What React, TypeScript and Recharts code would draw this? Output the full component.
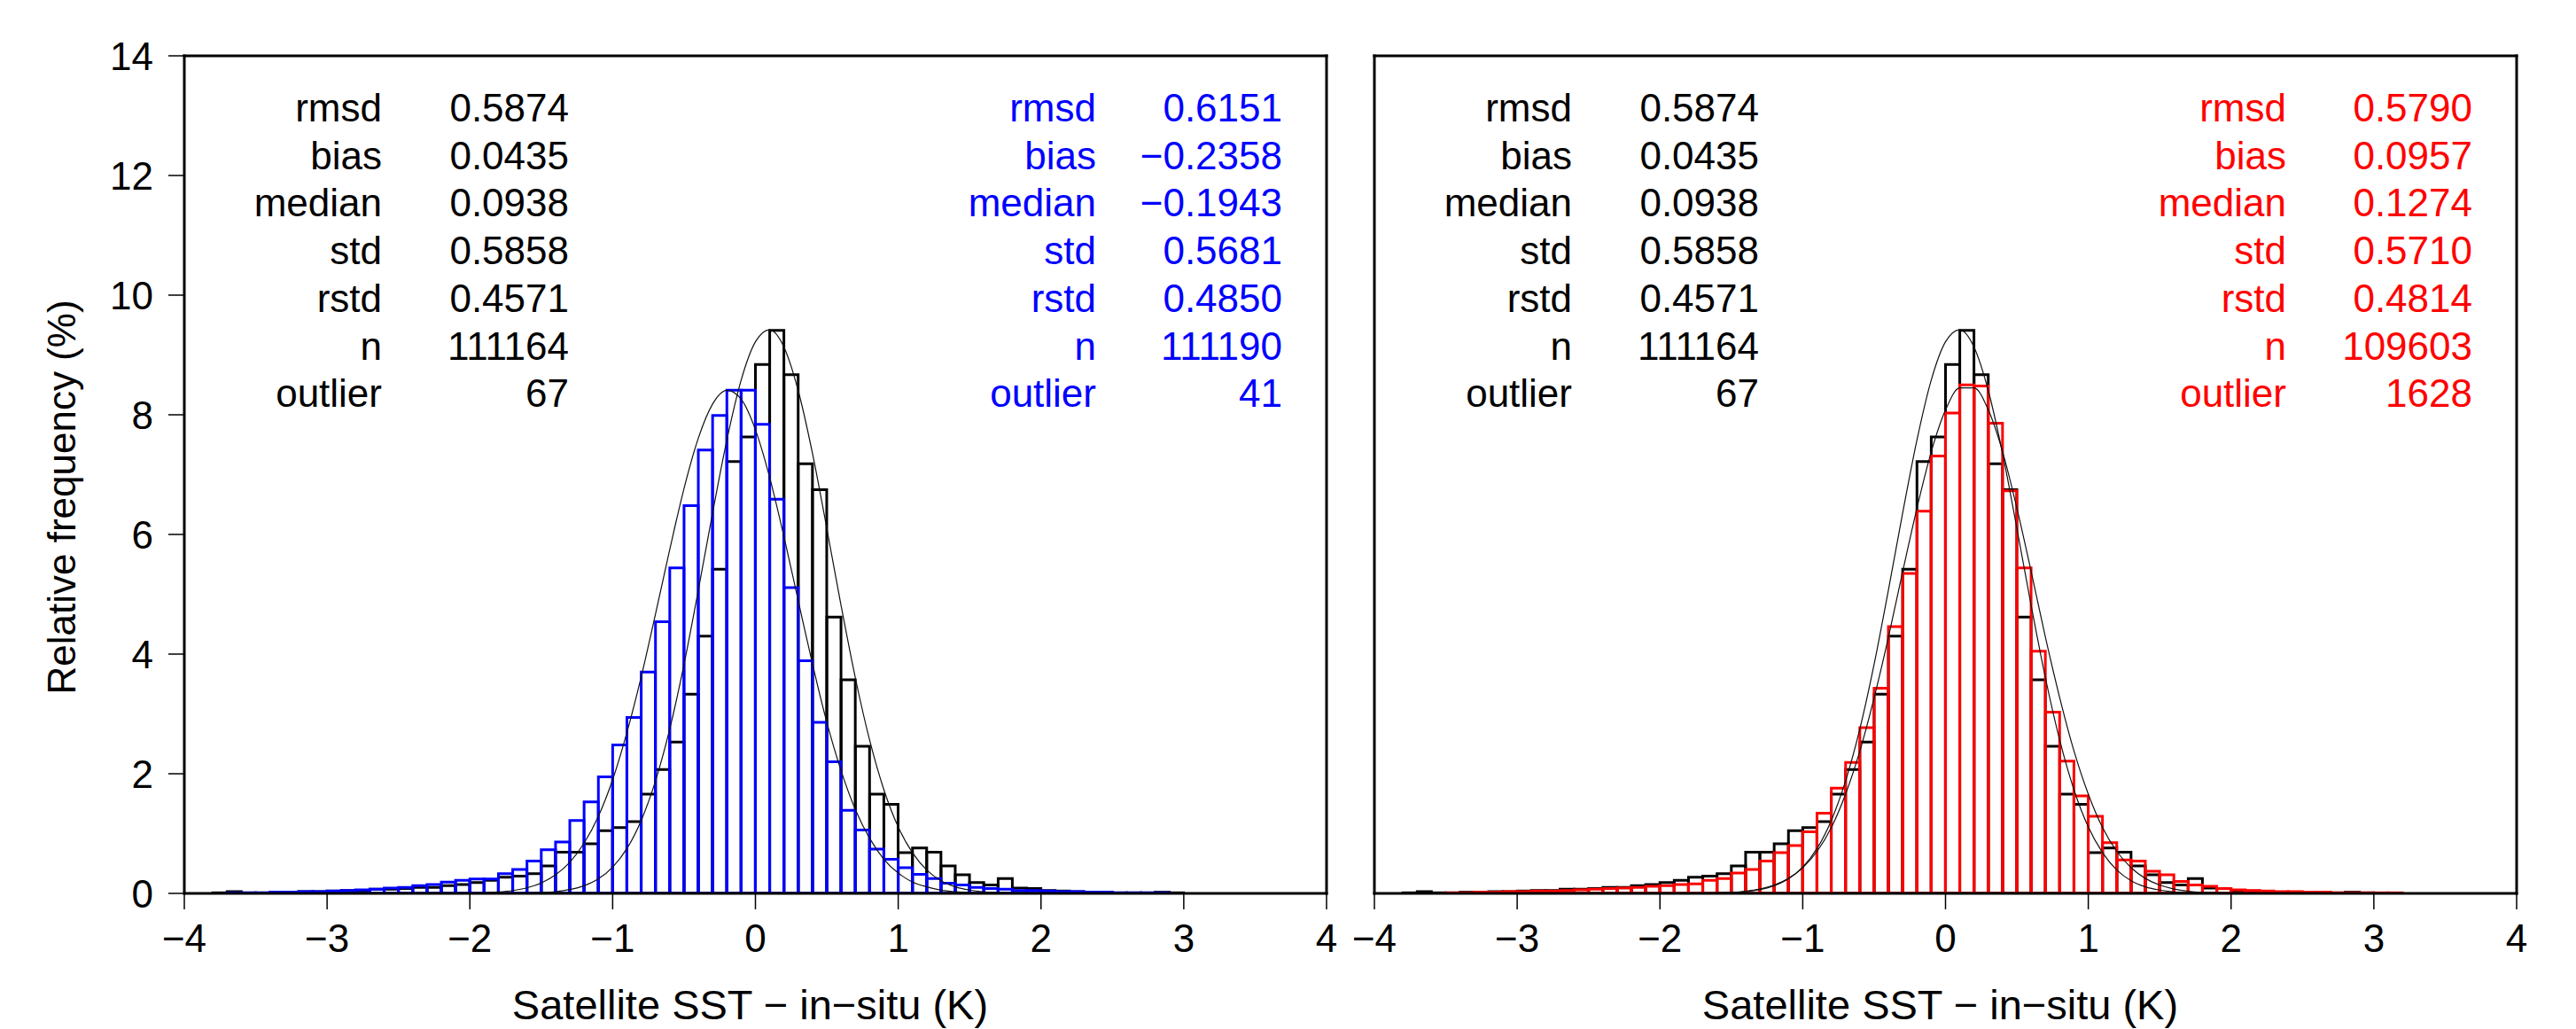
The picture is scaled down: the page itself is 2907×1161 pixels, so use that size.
import { Bar, ComposedChart, Line, XAxis, YAxis } from 'recharts'

// bin left edges (K), bin width 0.1
const binLeft = [
  -4.0, -3.9, -3.8, -3.7, -3.6, -3.5, -3.4, -3.3, -3.2, -3.1,
  -3.0, -2.9, -2.8, -2.7, -2.6, -2.5, -2.4, -2.3, -2.2, -2.1,
  -2.0, -1.9, -1.8, -1.7, -1.6, -1.5, -1.4, -1.3, -1.2, -1.1,
  -1.0, -0.9, -0.8, -0.7, -0.6, -0.5, -0.4, -0.3, -0.2, -0.1,
  0.0, 0.1, 0.2, 0.3, 0.4, 0.5, 0.6, 0.7, 0.8, 0.9,
  1.0, 1.1, 1.2, 1.3, 1.4, 1.5, 1.6, 1.7, 1.8, 1.9,
  2.0, 2.1, 2.2, 2.3, 2.4, 2.5, 2.6, 2.7, 2.8, 2.9,
  3.0, 3.1, 3.2, 3.3, 3.4, 3.5, 3.6, 3.7, 3.8, 3.9,
]

// relative frequency (%) per bin
const refHist = [
  0, 0, 0.01, 0.03, 0.01, 0.01, 0.02, 0.02, 0.03, 0.03,
  0.04, 0.05, 0.05, 0.07, 0.07, 0.08, 0.1, 0.1, 0.13, 0.15,
  0.18, 0.22, 0.27, 0.29, 0.33, 0.46, 0.69, 0.69, 0.83, 1.05,
  1.1, 1.2, 1.66, 2.07, 2.53, 3.33, 4.3, 5.42, 7.22, 7.63,
  8.84, 9.41, 8.67, 7.18, 6.75, 4.62, 3.57, 2.46, 1.66, 1.49,
  0.68, 0.76, 0.69, 0.46, 0.31, 0.18, 0.14, 0.25, 0.09, 0.08,
  0.05, 0.04, 0.03, 0.02, 0.02, 0.01, 0.01, 0.01, 0.02, 0.01,
  0, 0, 0, 0, 0, 0, 0, 0, 0, 0,
]
const blueHist = [
  0, 0, 0, 0.01, 0.01, 0.01, 0.02, 0.02, 0.03, 0.03,
  0.04, 0.05, 0.06, 0.07, 0.09, 0.1, 0.13, 0.15, 0.19, 0.22,
  0.24, 0.24, 0.33, 0.4, 0.54, 0.73, 0.86, 1.22, 1.53, 1.95,
  2.48, 2.94, 3.7, 4.54, 5.44, 6.48, 7.41, 7.99, 8.41, 8.41,
  7.84, 6.59, 5.11, 3.89, 2.86, 2.2, 1.39, 1.06, 0.74, 0.57,
  0.43, 0.32, 0.25, 0.17, 0.14, 0.1, 0.08, 0.07, 0.05, 0.05,
  0.04, 0.03, 0.03, 0.02, 0.02, 0.01, 0.01, 0.01, 0.01, 0,
  0, 0, 0, 0, 0, 0, 0, 0, 0, 0,
]
const redHist = [
  0, 0, 0, 0, 0, 0.01, 0.01, 0.02, 0.02, 0.03,
  0.03, 0.04, 0.04, 0.05, 0.06, 0.07, 0.08, 0.09, 0.1, 0.12,
  0.13, 0.15, 0.16, 0.22, 0.25, 0.34, 0.4, 0.54, 0.68, 0.8,
  1.03, 1.34, 1.76, 2.19, 2.77, 3.43, 4.46, 5.35, 6.39, 7.31,
  8.03, 8.5, 8.48, 7.86, 6.73, 5.44, 4.05, 3.03, 2.21, 1.63,
  1.29, 0.85, 0.56, 0.54, 0.37, 0.31, 0.2, 0.14, 0.12, 0.08,
  0.06, 0.05, 0.04, 0.03, 0.03, 0.02, 0.02, 0.01, 0.01, 0.01,
  0.01, 0.01, 0, 0, 0, 0, 0, 0, 0, 0,
]

// thin fitted curves
const curveX = [
  -4,
  -2.0, -1.9, -1.8, -1.7, -1.6, -1.5, -1.4, -1.3, -1.2, -1.1,
  -1.0, -0.9, -0.8, -0.7, -0.6, -0.5, -0.4, -0.3, -0.2, -0.1,
  0.0, 0.1, 0.2, 0.3, 0.4, 0.5, 0.6, 0.7, 0.8, 0.9,
  1.0, 1.1, 1.2, 1.3, 1.4, 1.5, 1.6, 1.7, 1.8, 1.9, 2.0,
  4,
]
const refCurve = [
  0,
  0, 0, 0.001, 0.003, 0.006, 0.014, 0.03, 0.064, 0.128, 0.243,
  0.44, 0.75, 1.22, 1.88, 2.75, 3.83, 5.07, 6.36, 7.58, 8.58,
  9.22, 9.42, 9.13, 8.4, 7.35, 6.1, 4.81, 3.6, 2.56, 1.73,
  1.11, 0.68, 0.39, 0.21, 0.11, 0.056, 0.026, 0.012, 0.005, 0.002, 0,
  0,
]
const blueCurve = [
  0,
  0.005, 0.011, 0.024, 0.048, 0.093, 0.173, 0.31, 0.52, 0.84, 1.29,
  1.9, 2.69, 3.62, 4.67, 5.75, 6.77, 7.61, 8.18, 8.41, 8.26,
  7.75, 6.95, 5.96, 4.89, 3.83, 2.86, 2.05, 1.4, 0.92, 0.57,
  0.34, 0.19, 0.11, 0.055, 0.028, 0.013, 0.006, 0.003, 0.001, 0, 0,
  0,
]
const redCurve = [
  0,
  0.001, 0.001, 0.002, 0.004, 0.008, 0.018, 0.037, 0.073, 0.14, 0.25,
  0.43, 0.7, 1.1, 1.66, 2.38, 3.27, 4.28, 5.38, 6.44, 7.38,
  8.08, 8.45, 8.45, 8.08, 7.38, 6.44, 5.38, 4.28, 3.27, 2.38,
  1.66, 1.1, 0.7, 0.43, 0.25, 0.14, 0.073, 0.037, 0.018, 0.008, 0.004,
  0,
]

const xTicks = [-4, -3, -2, -1, 0, 1, 2, 3, 4]
const yTicks = [0, 2, 4, 6, 8, 10, 12, 14]

const statNames = ['rmsd', 'bias', 'median', 'std', 'rstd', 'n', 'outlier']
const refStats = ['0.5874', '0.0435', '0.0938', '0.5858', '0.4571', '111164', '67']
const blueStats = ['0.6151', '\u22120.2358', '\u22120.1943', '0.5681', '0.4850', '111190', '41']
const redStats = ['0.5790', '0.0957', '0.1274', '0.5710', '0.4814', '109603', '1628']

const FONT = '"Liberation Sans", Arial, Helvetica, sans-serif'
const H = 1161
const PLOT_TOP = 63
const PLOT_W = 1289
const PLOT_H = 945
const LEFT_PLOT = 208
const RIGHT_PLOT = 1551
const FS = 44

const frame = { stroke: '#000', strokeWidth: 3, strokeLinecap: 'square' as const }
const tickLn = { stroke: '#000', strokeWidth: 1.5 }
const minus = (v: number) => (v < 0 ? '\u2212' + Math.abs(v) : String(v))

function Panel({ left, width, plotLeft, sat, satCurve, color, yLabels }: any) {
  // note: no "ref"/"key" field names here, recharts spreads entries onto the rects
  const rows = binLeft.map((b, i) => ({ bin: b, base: refHist[i], cmp: sat[i] }))
  const baseLine = curveX.map((x, i) => ({ x, y: refCurve[i] }))
  const cmpLine = curveX.map((x, i) => ({ x, y: satCurve[i] }))
  const yw = yLabels ? 70 : 20
  const pl = plotLeft - left
  return (
    <div style={{ position: 'absolute', left, top: 0 }}>
      <ComposedChart
        width={width}
        height={H}
        data={rows}
        barCategoryGap={0}
        margin={{ top: PLOT_TOP - 20, bottom: H - PLOT_TOP - PLOT_H - 80, left: pl - yw, right: width - pl - PLOT_W - 20 }}
      >
        <XAxis
          xAxisId="n"
          dataKey="x"
          type="number"
          domain={[-4, 4]}
          ticks={xTicks}
          interval={0}
          allowDataOverflow
          height={80}
          tickSize={18}
          tickMargin={17}
          tickFormatter={minus}
          tick={{ fontSize: FS, fill: '#000' }}
          axisLine={frame}
          tickLine={tickLn}
        />
        <XAxis xAxisId="a" dataKey="bin" type="category" hide height={0} />
        <XAxis xAxisId="b" dataKey="bin" type="category" hide height={0} />
        <XAxis
          xAxisId="t"
          orientation="top"
          type="number"
          domain={[-4, 4]}
          ticks={xTicks}
          interval={0}
          allowDataOverflow
          height={20}
          tickSize={18}
          tick={false}
          axisLine={frame}
          tickLine={tickLn}
        />
        <YAxis
          yAxisId="l"
          domain={[0, 14]}
          ticks={yTicks}
          interval={0}
          allowDataOverflow
          width={yw}
          tickSize={18}
          tickMargin={17}
          tick={yLabels ? { fontSize: FS, fill: '#000' } : false}
          axisLine={frame}
          tickLine={tickLn}
        />
        <YAxis
          yAxisId="r"
          orientation="right"
          domain={[0, 14]}
          ticks={yTicks}
          interval={0}
          allowDataOverflow
          width={20}
          tickSize={18}
          tick={false}
          axisLine={frame}
          tickLine={tickLn}
        />
        <Bar xAxisId="a" yAxisId="l" dataKey="base" fill="none" stroke="#000" strokeWidth={3} isAnimationActive={false} />
        <Bar xAxisId="b" yAxisId="l" dataKey="cmp" fill="none" stroke={color} strokeWidth={3} isAnimationActive={false} />
        <Line xAxisId="n" yAxisId="l" data={baseLine} dataKey="y" type="monotone" dot={false} stroke="#111" strokeWidth={1.2} isAnimationActive={false} />
        <Line xAxisId="n" yAxisId="l" data={cmpLine} dataKey="y" type="monotone" dot={false} stroke="#111" strokeWidth={1.2} isAnimationActive={false} />
      </ComposedChart>
    </div>
  )
}

function Stats({ plotLeft, color, values }: any) {
  return (
    <g>
      {statNames.map((s, i) => {
        const y = PLOT_TOP + 74 + i * 53.7
        return (
          <g key={s}>
            <text x={plotLeft + 223} y={y} textAnchor="end" fill="#000">{s}</text>
            <text x={plotLeft + 434} y={y} textAnchor="end" fill="#000">{refStats[i]}</text>
            <text x={plotLeft + 1029} y={y} textAnchor="end" fill={color}>{s}</text>
            <text x={plotLeft + 1239} y={y} textAnchor="end" fill={color}>{values[i]}</text>
          </g>
        )
      })}
    </g>
  )
}

export default function App() {
  const xTitle = 'Satellite SST \u2212 in\u2212situ (K)'
  return (
    <div style={{ position: 'absolute', left: 0, top: 0, width: 2907, height: H, background: '#fff', fontFamily: FONT }}>
      <Panel left={0} width={1524} plotLeft={LEFT_PLOT} sat={blueHist} satCurve={blueCurve} color="#0000ff" yLabels />
      <Panel left={1524} width={2907 - 1524} plotLeft={RIGHT_PLOT} sat={redHist} satCurve={redCurve} color="#ff0000" yLabels={false} />
      <svg width={2907} height={H} style={{ position: 'absolute', left: 0, top: 0, pointerEvents: 'none' }} fontFamily={FONT} fontSize={FS}>
        <Stats plotLeft={LEFT_PLOT} color="#0000ff" values={blueStats} />
        <Stats plotLeft={RIGHT_PLOT} color="#ff0000" values={redStats} />
        <text transform="translate(85, 561) rotate(-90)" textAnchor="middle" fill="#000">Relative frequency (%)</text>
        <text x={LEFT_PLOT + PLOT_W / 2 - 6} y={1150} textAnchor="middle" fill="#000" fontSize={47}>{xTitle}</text>
        <text x={RIGHT_PLOT + PLOT_W / 2 - 6} y={1150} textAnchor="middle" fill="#000" fontSize={47}>{xTitle}</text>
      </svg>
    </div>
  )
}
